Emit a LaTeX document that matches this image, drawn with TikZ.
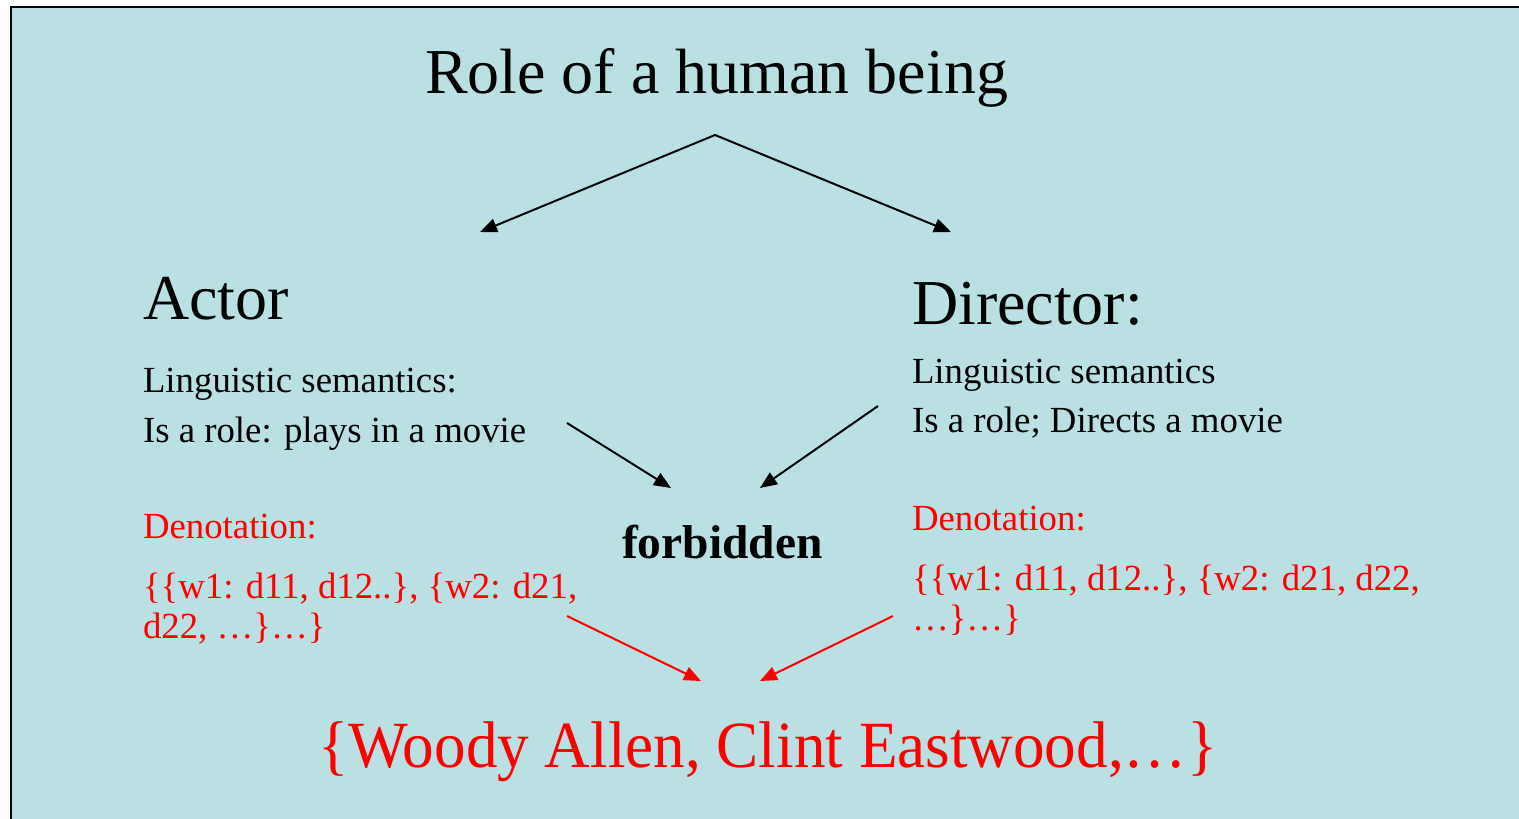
\documentclass[tikz,border=0pt]{standalone}
\usepackage{fontspec}
\setmainfont{Liberation Serif}
\usetikzlibrary{arrows.meta}
\definecolor{bgteal}{RGB}{186,224,227}
\definecolor{txtred}{RGB}{255,0,0}
\begin{document}
\begin{tikzpicture}[x=1pt,y=-1pt,
  txt/.style={anchor=base west,inner sep=0pt,outer sep=0pt},
  big/.style={txt,font=\fontsize{64}{64}\selectfont},
  small/.style={txt,font=\fontsize{36.8}{36.8}\selectfont},
  redtxt/.style={small,text=txtred},
  blackarrow/.style={draw=black,line width=2pt,-{Triangle[length=17pt,width=14pt]}},
  redarrow/.style={draw=txtred,line width=2pt,-{Triangle[length=17pt,width=14pt]}}]
\useasboundingbox (0,0) rectangle (1519,819);
\fill[white] (0,0) rectangle (1519,819);
\fill[bgteal] (11,7) rectangle (1519,819);
\draw[black,line width=2.2pt] (11,830) -- (11,7) -- (1530,7);

\node[txt,font=\fontsize{64}{64}\selectfont] (title) at (425,93) {Role of a human being};

\node[big] (actor) at (143,319) {Actor};
\node[small] (actorA) at (143,392) {Linguistic semantics:};
\node[small] (actorB) at (143,442) {Is a role: plays in a movie};
\node[redtxt] (actorD) at (143,538) {Denotation:};
\node[redtxt] (actorE) at (143,598) {\{\{w1: d11, d12..\}, \{w2: d21,};
\node[redtxt] (actorF) at (143,638) {d22, …\}…\}};

\node[big] (director) at (912,324) {Director:};
\node[small] (dirA) at (912,383) {Linguistic semantics};
\node[small] (dirB) at (912,432) {Is a role; Directs a movie};
\node[redtxt] (dirD) at (912,530) {Denotation:};
\node[redtxt] (dirE) at (912,590) {\{\{w1: d11, d12..\}, \{w2: d21, d22,};
\node[redtxt] (dirF) at (912,630) {…\}…\}};

\node[txt,font=\fontsize{47.5}{47.5}\selectfont\bfseries] (forbidden) at (622,558) {forbidden};

\node[txt,text=txtred,font=\fontsize{66}{66}\selectfont] (woody) at (318,767)
  {\scalebox{0.957}[1]{\{Woody Allen, Clint Eastwood,…\}}};

\coordinate (apex) at (715,135);
\coordinate (tl) at (480,232);
\coordinate (tr) at (951,232);
\coordinate (a1) at (567,423);
\coordinate (a2) at (671,488);
\coordinate (d1) at (878,406);
\coordinate (d2) at (760,488);
\coordinate (r1) at (567,616);
\coordinate (r2) at (701,681);
\coordinate (s1) at (893,616);
\coordinate (s2) at (760,681);

\draw[blackarrow] (apex) -- (tl);
\draw[blackarrow] (apex) -- (tr);
\draw[blackarrow] (a1) -- (a2);
\draw[blackarrow] (d1) -- (d2);
\draw[redarrow] (r1) -- (r2);
\draw[redarrow] (s1) -- (s2);
\end{tikzpicture}
\end{document}
